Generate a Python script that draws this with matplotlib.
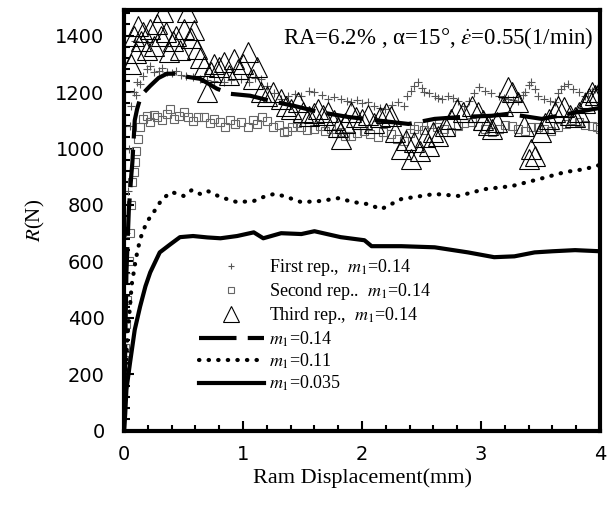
import numpy as np
import matplotlib
matplotlib.use("Agg")
import matplotlib.pyplot as plt
from matplotlib.ticker import MultipleLocator

plt.rcParams['mathtext.fontset'] = 'stix'

# model curves
x_m035 = [0, 0.01, 0.02, 0.05, 0.09, 0.135, 0.18, 0.22, 0.3, 0.39, 0.47, 0.58, 0.7, 0.81, 0.95,
          1.09, 1.17, 1.32, 1.49, 1.6, 1.82, 2.02, 2.08, 2.33, 2.61, 2.89, 3.11, 3.28, 3.45, 3.6, 3.79, 4.0]
y_m035 = [0, 60, 146, 240, 358, 440, 512, 561, 632, 661, 686, 690, 685, 682, 690,
          703, 682, 700, 697, 707, 686, 675, 654, 654, 650, 632, 615, 618, 632, 636, 640, 636]

x_m011 = [0, 0.015, 0.03, 0.05, 0.065, 0.076, 0.1, 0.135, 0.19, 0.25, 0.32, 0.4, 0.5, 0.57, 0.64, 0.7,
          0.81, 0.95, 1.09, 1.17, 1.26, 1.34, 1.49, 1.65, 1.8, 1.93, 2.05, 2.16, 2.33, 2.61, 2.81,
          3.03, 3.26, 3.49, 3.71, 3.87, 4.0]
y_m011 = [150, 227, 340, 441, 519, 547, 610, 679, 739, 775, 821, 846, 832, 853, 839, 850,
          828, 810, 814, 828, 839, 832, 810, 814, 824, 810, 803, 785, 821, 839, 832,
          856, 867, 892, 917, 927, 942]

x_m014 = [0, 0.01, 0.02, 0.04, 0.06, 0.07, 0.09, 0.11, 0.135, 0.17, 0.22, 0.29, 0.36, 0.47, 0.53,
          0.64, 0.78, 0.89, 1.06, 1.26, 1.43, 1.63, 1.88, 2.16, 2.39, 2.61, 2.84, 3.09, 3.23,
          3.51, 3.65, 3.87, 4.0]
y_m014 = [0, 300, 560, 780, 900, 950, 1100, 1140, 1176, 1200, 1222, 1250, 1265, 1265, 1254,
          1247, 1212, 1194, 1187, 1166, 1151, 1130, 1112, 1098, 1087, 1105, 1112, 1116, 1123,
          1105, 1116, 1134, 1144]

# experiments
x_rep1 = [0.0, 0.01, 0.015, 0.02, 0.03, 0.04, 0.05, 0.06, 0.08, 0.09, 0.1, 0.11, 0.13, 0.16, 0.19, 0.22,
          0.25, 0.29, 0.32, 0.36, 0.4, 0.44, 0.48, 0.52, 0.58, 0.64, 0.7, 0.76, 0.84, 0.9, 0.98,
          1.05, 1.1, 1.15, 1.2, 1.26, 1.32, 1.38, 1.44, 1.49, 1.55, 1.6, 1.66, 1.71, 1.76, 1.82,
          1.87, 1.91, 1.96, 2.0, 2.05, 2.1, 2.15, 2.19, 2.25, 2.3, 2.35, 2.38, 2.41, 2.44, 2.47,
          2.5, 2.52, 2.56, 2.61, 2.64, 2.67, 2.72, 2.76, 2.81, 2.86, 2.9, 2.94, 2.98, 3.03, 3.08,
          3.15, 3.19, 3.23, 3.27, 3.31, 3.35, 3.37, 3.4, 3.42, 3.45, 3.48, 3.53, 3.58, 3.62, 3.65,
          3.67, 3.7, 3.73, 3.77, 3.82, 3.87, 3.9, 3.93, 3.96, 3.99]
y_rep1 = [360, 450, 560, 700, 850, 1000, 1080, 1150, 1200, 1380, 1190, 1237, 1230, 1258, 1280, 1293,
          1270, 1276, 1285, 1272, 1268, 1276, 1262, 1258, 1254, 1247, 1243, 1240, 1237, 1243, 1247,
          1235, 1250, 1247, 1222, 1195, 1176, 1185, 1194, 1187, 1205, 1201, 1190, 1176, 1182, 1176,
          1170, 1166, 1172, 1160, 1166, 1150, 1145, 1140, 1155, 1166, 1151, 1185, 1205, 1222, 1237,
          1215, 1201, 1195, 1187, 1180, 1176, 1187, 1178, 1169, 1151, 1170, 1195, 1219, 1205, 1195,
          1187, 1180, 1176, 1172, 1169, 1190, 1201, 1225, 1237, 1210, 1187, 1176, 1170, 1166, 1195,
          1212, 1222, 1230, 1212, 1201, 1187, 1195, 1205, 1212, 1219]

x_rep2 = [0.0, 0.01, 0.015, 0.025, 0.04, 0.05, 0.06, 0.07, 0.08, 0.09, 0.1, 0.12, 0.135, 0.16, 0.19,
          0.22, 0.25, 0.28, 0.32, 0.36, 0.39, 0.42, 0.46, 0.5, 0.54, 0.58, 0.62, 0.67, 0.72, 0.76,
          0.81, 0.85, 0.89, 0.93, 0.98, 1.04, 1.08, 1.12, 1.16, 1.2, 1.25, 1.3, 1.34, 1.37, 1.41,
          1.45, 1.49, 1.54, 1.6, 1.65, 1.69, 1.74, 1.78, 1.82, 1.86, 1.91, 1.96, 2.02, 2.07, 2.13,
          2.18, 2.24, 2.29, 2.35, 2.4, 2.44, 2.47, 2.52, 2.58, 2.63, 2.69, 2.75, 2.81, 2.86, 2.92,
          2.97, 3.03, 3.09, 3.15, 3.2, 3.26, 3.31, 3.37, 3.42, 3.48, 3.53, 3.59, 3.65, 3.71, 3.76,
          3.82, 3.87, 3.93, 3.97, 4.0]
y_rep2 = [250, 295, 380, 465, 600, 700, 800, 880, 917, 952, 991, 1034, 1077, 1105, 1116,
          1095, 1120, 1112, 1100, 1123, 1140, 1105, 1116, 1128, 1110, 1098, 1112, 1112, 1090, 1105,
          1094, 1077, 1100, 1087, 1095, 1077, 1100, 1087, 1110, 1098, 1077, 1085, 1060, 1063, 1075,
          1090, 1077, 1065, 1070, 1080, 1063, 1070, 1055, 1059, 1045, 1045, 1055, 1063, 1050, 1041,
          1058, 1052, 1035, 1027, 1055, 1070, 1080, 1065, 1087, 1075, 1070, 1060, 1080, 1090, 1094,
          1080, 1070, 1060, 1070, 1085, 1080, 1070, 1063, 1075, 1077, 1070, 1063, 1075, 1087, 1100,
          1094, 1085, 1080, 1075, 1070]

x_rep3 = [0.06, 0.08, 0.1, 0.12, 0.14, 0.16, 0.19, 0.22, 0.25, 0.28, 0.31, 0.33, 0.35, 0.38, 0.41,
          0.44, 0.47, 0.5, 0.53, 0.56, 0.59, 0.61, 0.64, 0.67, 0.7, 0.73, 0.76, 0.8, 0.84, 0.88,
          0.92, 0.96, 1.0, 1.04, 1.08, 1.12, 1.15, 1.2, 1.25, 1.32, 1.36, 1.4, 1.46, 1.5, 1.55,
          1.6, 1.63, 1.67, 1.71, 1.76, 1.8, 1.82, 1.86, 1.91, 1.95, 2.0, 2.05, 2.1, 2.15, 2.2,
          2.24, 2.28, 2.33, 2.37, 2.41, 2.44, 2.49, 2.53, 2.56, 2.6, 2.64, 2.7, 2.75, 2.8, 2.85,
          2.92, 2.97, 3.02, 3.06, 3.09, 3.13, 3.18, 3.23, 3.26, 3.31, 3.36, 3.4, 3.42, 3.45, 3.5,
          3.54, 3.57, 3.62, 3.65, 3.7, 3.75, 3.79, 3.82, 3.87, 3.91, 3.93, 3.96, 3.99]
y_rep3 = [1300, 1400, 1340, 1435, 1380, 1414, 1350, 1425, 1365, 1440, 1400, 1485, 1414, 1343, 1380,
          1400, 1350, 1425, 1485, 1390, 1420, 1354, 1320, 1293, 1201, 1272, 1300, 1290, 1307, 1260,
          1318, 1283, 1300, 1343, 1247, 1290, 1201, 1187, 1200, 1176, 1150, 1140, 1166, 1130, 1116,
          1125, 1140, 1120, 1130, 1100, 1075, 1034, 1090, 1130, 1110, 1105, 1120, 1090, 1110, 1125,
          1116, 1060, 998, 1030, 963, 1023, 990, 1040, 1009, 1060, 1045, 1080, 1105, 1140, 1130,
          1151, 1130, 1100, 1085, 1070, 1094, 1150, 1219, 1201, 1166, 1080, 963, 998, 974, 1060,
          1090, 1105, 1130, 1151, 1148, 1120, 1110, 1130, 1160, 1180, 1201, 1190, 1201]

labels = [r'First rep.,  $m_1$=0.14', r'Second rep..  $m_1$=0.14', r'Third rep.,  $m_1$=0.14',
          r'$m_1$=0.14', r'$m_1$=0.11', r'$m_1$=0.035']

fig = plt.figure(figsize=(6.08, 5.11), dpi=100)
ax = fig.add_axes([0.204, 0.157, 0.783, 0.823])

ax.plot(x_rep1, y_rep1, ls='none', marker='+', ms=6, mew=0.8, color='#555555', label=labels[0])
ax.plot(x_rep2, y_rep2, ls='none', marker='s', ms=6, mew=0.8, mfc='none', mec='#666666', label=labels[1])
ax.plot(x_rep3, y_rep3, ls='none', marker='^', ms=15, mew=0.8, mfc='none', mec='black', label=labels[2])
ax.plot(x_m014, y_m014, color='black', lw=3, ls=(0, (9, 2.7)), label=labels[3])
ax.plot(x_m011, y_m011, color='black', lw=3, ls=(0, (0.1, 2.2)), dash_capstyle='round', label=labels[4])
ax.plot(x_m035, y_m035, color='black', lw=3, label=labels[5])

ax.set_xlim(0, 4)
ax.set_ylim(0, 1490)
ax.xaxis.set_major_locator(MultipleLocator(1))
ax.xaxis.set_minor_locator(MultipleLocator(0.2))
ax.yaxis.set_major_locator(MultipleLocator(200))
ax.yaxis.set_minor_locator(MultipleLocator(40))
ax.tick_params(which='both', direction='in', width=1.5, labelsize=14)
ax.tick_params(which='major', length=7)
ax.tick_params(which='minor', length=4)
ax.tick_params(axis='x', pad=10)
ax.tick_params(axis='y', pad=14)
ax.tick_params(right=False, top=False)
for s in ax.spines.values():
    s.set_linewidth(3)

ax.set_xlabel('Ram Displacement(mm)', family='Liberation Serif', fontsize=16, labelpad=3)
ax.set_ylabel(r'$R$(N)', family='Liberation Serif', fontsize=15, labelpad=6)

ax.text(0.333, 0.92, r'RA=6.2% , α=15°, $\dot{\varepsilon}$=0.55(1/min)', transform=ax.transAxes,
        family='Liberation Serif', fontsize=16.5, clip_on=True)

leg = ax.legend(loc='lower left', bbox_to_anchor=(0.123, 0.05), frameon=False,
                prop={'family': 'Liberation Serif', 'size': 13}, handlelength=3.6,
                labelspacing=0.17, handletextpad=0.3)
leg.legend_handles[2].set_markersize(11)
leg.legend_handles[0].set_markersize(5)
leg.legend_handles[1].set_markersize(5)

fig.savefig('out.png', dpi=100)
